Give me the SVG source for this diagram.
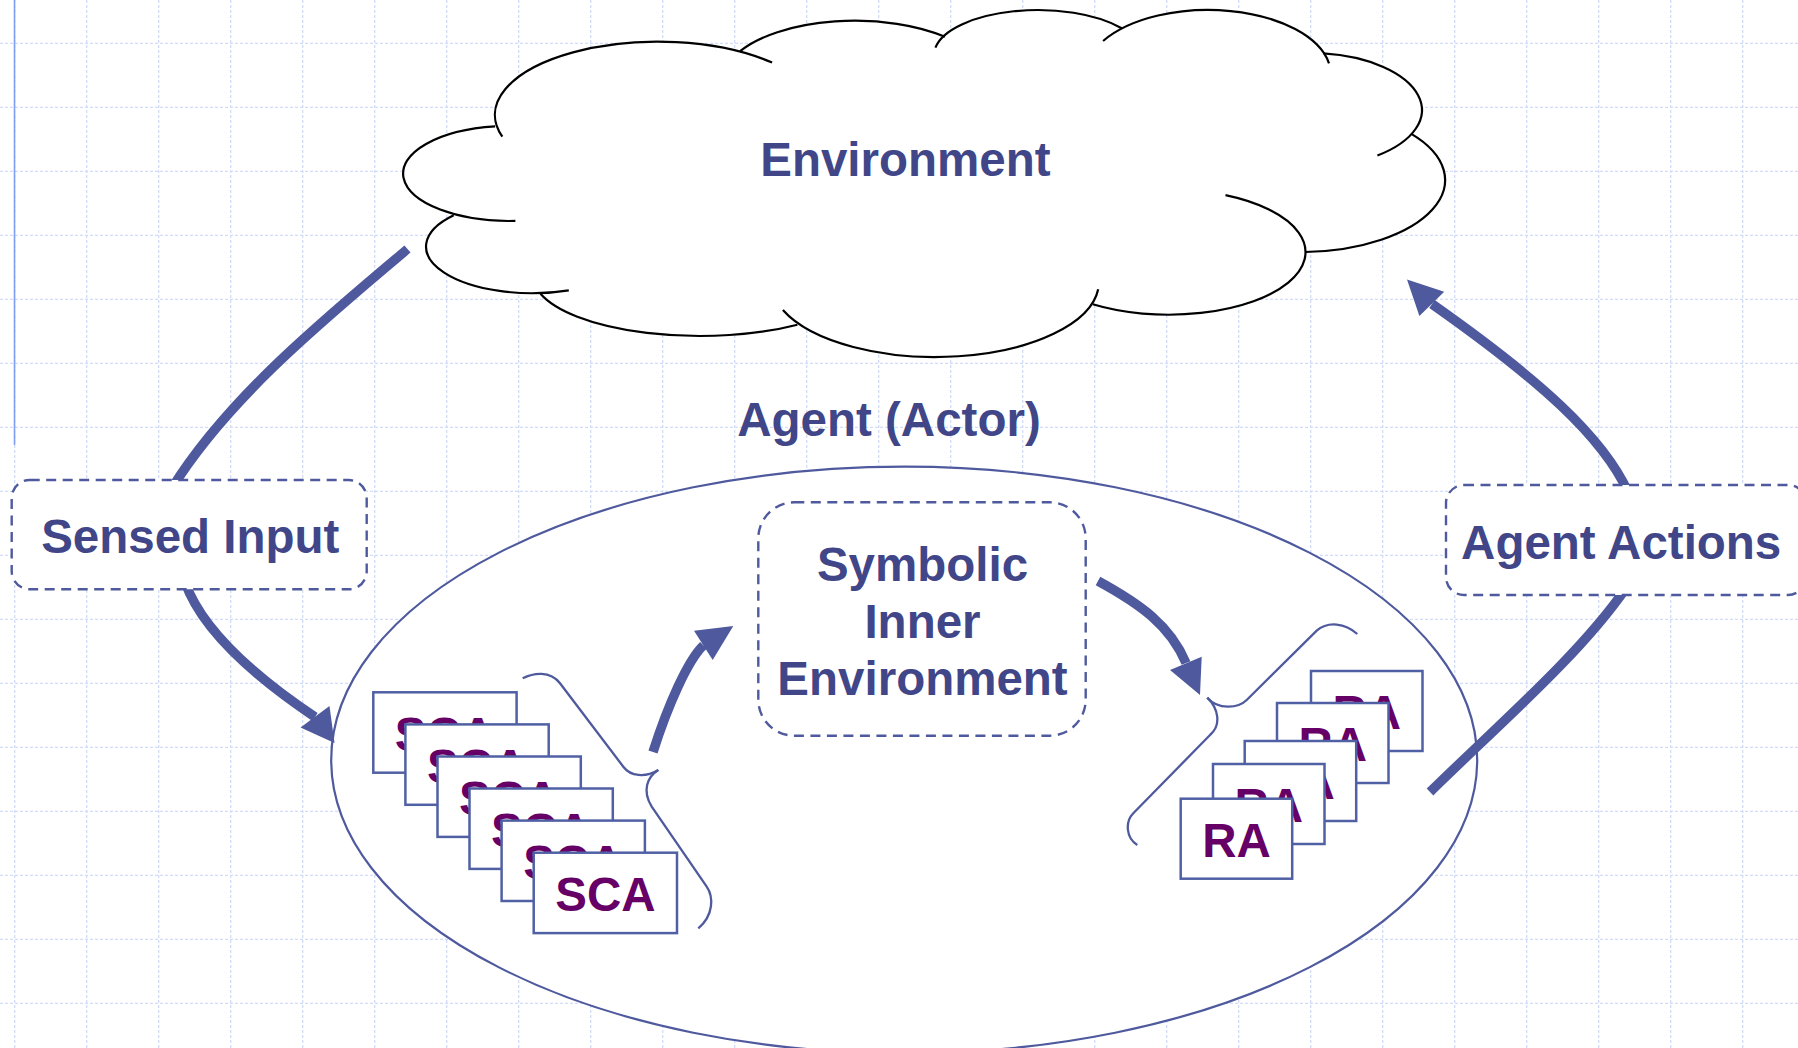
<svg xmlns="http://www.w3.org/2000/svg" width="1798" height="1048" viewBox="0 0 1798 1048">
<style>
.t{font-family:"Liberation Sans",Arial,sans-serif;font-weight:bold;font-size:47.5px;fill:#404688;text-anchor:middle}
.p{font-family:"Liberation Sans",Arial,sans-serif;font-weight:bold;font-size:47.5px;fill:#660066;text-anchor:middle}
.grid{fill:none;stroke:#d3dcf8;stroke-width:1.3;stroke-dasharray:3 2}
.arrow{fill:none;stroke:#4f5a9e;stroke-width:9.5}
.head{fill:#4f5a9e}
.dbox{fill:#fff;stroke:#4f5a9e;stroke-width:2.4;stroke-dasharray:10 6.5}
.card{fill:#fff;stroke:#5060a4;stroke-width:2.5}
.brace{fill:none;stroke:#4f5a9e;stroke-width:2.3}
.cl{fill:none;stroke:#000;stroke-width:2.2}
.clf{fill:#fff;stroke:none}
</style>
<rect width="1798" height="1048" fill="#fff"/>
<g id="grid">
<path class="grid" d="M14.7,0V1048M86.7,0V1048M158.7,0V1048M230.7,0V1048M302.7,0V1048M374.7,0V1048M446.7,0V1048M518.7,0V1048M590.7,0V1048M662.7,0V1048M734.7,0V1048M806.7,0V1048M878.7,0V1048M950.7,0V1048M1022.7,0V1048M1094.7,0V1048M1166.7,0V1048M1238.7,0V1048M1310.7,0V1048M1382.7,0V1048M1454.7,0V1048M1526.7,0V1048M1598.7,0V1048M1670.7,0V1048M1742.7,0V1048"/>
<path class="grid" d="M0,43.3H1798M0,107.3H1798M0,171.3H1798M0,235.3H1798M0,299.3H1798M0,363.3H1798M0,427.3H1798M0,491.3H1798M0,555.3H1798M0,619.3H1798M0,683.3H1798M0,747.3H1798M0,811.3H1798M0,875.3H1798M0,939.3H1798M0,1003.3H1798"/>
<line x1="14.5" y1="0" x2="14.5" y2="445" stroke="#7f9ff0" stroke-width="1.6"/>
</g>
<g id="environment">
<g class="clf">
<ellipse cx="508" cy="173.5" rx="106" ry="47.5"/>
<ellipse cx="658" cy="115" rx="163" ry="73.3"/>
<ellipse cx="855" cy="80.7" rx="132" ry="60"/>
<ellipse cx="1038" cy="55" rx="104" ry="45"/>
<ellipse cx="1208" cy="75" rx="123" ry="65"/>
<ellipse cx="1310" cy="110" rx="112" ry="57"/>
<ellipse cx="1300" cy="180" rx="145" ry="72"/>
<ellipse cx="1168" cy="252" rx="137" ry="62.6"/>
<ellipse cx="935" cy="282" rx="164" ry="75"/>
<ellipse cx="700" cy="276" rx="167" ry="60"/>
<ellipse cx="531.7" cy="246.7" rx="106" ry="46.6"/>
<polygon points="495,126 741,52 945,37 1122,28 1327,54 1411,134 1305,252 1092,304 798,325 542,293 454,215"/>
</g>
<path class="cl" d="M515.4,220.9A106,47.5 0 0 1 495.1,126.4"/>
<path class="cl" d="M502.3,136.7A163,73.3 0 0 1 772.1,62.6"/>
<path class="cl" d="M740.1,51.2A132,60 0 0 1 945,36.8"/>
<path class="cl" d="M935.4,47.7A104,45 0 0 1 1121.7,28.3"/>
<path class="cl" d="M1103.1,41A123,65 0 0 1 1329,63.3"/>
<path class="cl" d="M1323.3,53.4A112,57 0 0 1 1377.4,155.5"/>
<path class="cl" d="M1410.9,133.6A145,72 0 0 1 1305.1,252"/>
<path class="cl" d="M1225.5,195.2A137,62.6 0 1 1 1092.8,304.3"/>
<path class="cl" d="M1098.2,289.3A164,75 0 0 1 782.9,310.1"/>
<path class="cl" d="M797.4,324.7A167,60 0 0 1 540.5,293.7"/>
<path class="cl" d="M568.8,290.3A106,46.6 0 0 1 453.7,215.2"/>
<text class="t" x="905.4" y="176">Environment</text>
</g>
<g id="agent">
<ellipse cx="904.2" cy="760" rx="573" ry="293.3" fill="#fff" stroke="#4f5a9e" stroke-width="2.2"/>
<text class="t" x="889" y="436">Agent (Actor)</text>
</g>
<g id="connectors">
<path class="arrow" d="M407.5,249C330,315 230,395 172,488"/>
<path class="arrow" d="M185,582C200,625 245,670 315,717"/>
<polygon class="head" points="334.5,743 300.5,727.5 329.5,706"/>
<path class="arrow" d="M653,752C668,705 688,660 703.4,645.4"/>
<polygon class="head" points="733.3,626 694,630.7 712.7,660"/>
<path class="arrow" d="M1098,581C1140,604 1170,625 1186,663"/>
<polygon class="head" points="1200,695 1170,670 1201.7,656.7"/>
<path class="arrow" d="M1430,792C1495,728 1580,655 1626,588"/>
<path class="arrow" d="M1628,492C1603,437 1540,380 1432,304"/>
<polygon class="head" points="1407,279.5 1444.2,291.7 1419.4,316"/>
</g>
<g id="sensed-input">
<rect class="dbox" x="11.7" y="480" width="355" height="109.3" rx="18"/>
<text class="t" x="190.3" y="553.3">Sensed Input</text>
</g>
<g id="agent-actions">
<rect class="dbox" x="1446" y="485" width="360" height="110" rx="18"/>
<text class="t" x="1621.2" y="559.3">Agent Actions</text>
</g>
<g id="symbolic-inner-environment">
<rect class="dbox" x="758.3" y="502.3" width="327.4" height="233.4" rx="36"/>
<text class="t" x="922.5" y="580.5">Symbolic</text>
<text class="t" x="922.5" y="637.5">Inner</text>
<text class="t" x="922.5" y="695">Environment</text>
</g>
<g id="sca-stack">
<rect class="card" x="373.3" y="692.3" width="143.3" height="80.4"/><text class="p" x="445" y="750.7">SCA</text>
<rect class="card" x="405.4" y="724.4" width="143.3" height="80.4"/><text class="p" x="477.1" y="782.8">SCA</text>
<rect class="card" x="437.5" y="756.5" width="143.3" height="80.4"/><text class="p" x="509.2" y="814.9">SCA</text>
<rect class="card" x="469.5" y="788.5" width="143.3" height="80.4"/><text class="p" x="541.2" y="846.9">SCA</text>
<rect class="card" x="501.6" y="820.6" width="143.3" height="80.4"/><text class="p" x="573.3" y="879">SCA</text>
<rect class="card" x="533.7" y="852.7" width="143.3" height="80.4"/><text class="p" x="605.4" y="911.1">SCA</text>
</g>
<g id="sca-brace">
<path class="brace" d="M522.7,678.3C533,673 550,670 560,683.3L623.3,766.7C630.5,776.3 645,778 658.3,770"/>
<path class="brace" d="M658.3,770C647,777 642,791 651.7,806.7L706.7,886.7C713.5,896.6 714,915 698.3,928.3"/>
</g>
<g id="ra-stack">
<rect class="card" x="1311" y="671" width="111.5" height="80"/><text class="p" x="1366.8" y="729">RA</text>
<rect class="card" x="1277" y="703" width="111.5" height="80"/><text class="p" x="1332.8" y="761">RA</text>
<rect class="card" x="1244.7" y="741" width="111.5" height="80"/><text class="p" x="1300.5" y="799">RA</text>
<rect class="card" x="1213" y="764" width="111.5" height="80"/><text class="p" x="1268.8" y="822">RA</text>
<rect class="card" x="1180.7" y="798.7" width="111.5" height="80"/><text class="p" x="1236.5" y="856.7">RA</text>
</g>
<g id="ra-brace">
<path class="brace" d="M1357.3,634C1345,623 1328,621 1316.7,630.7L1246.7,700C1238.2,708.4 1218,710 1207.3,697.7"/>
<path class="brace" d="M1207.3,697.7C1218,708 1222,725 1210,735L1133.3,813.3C1124.9,821.9 1126,838 1137.3,845"/>
</g>
</svg>
